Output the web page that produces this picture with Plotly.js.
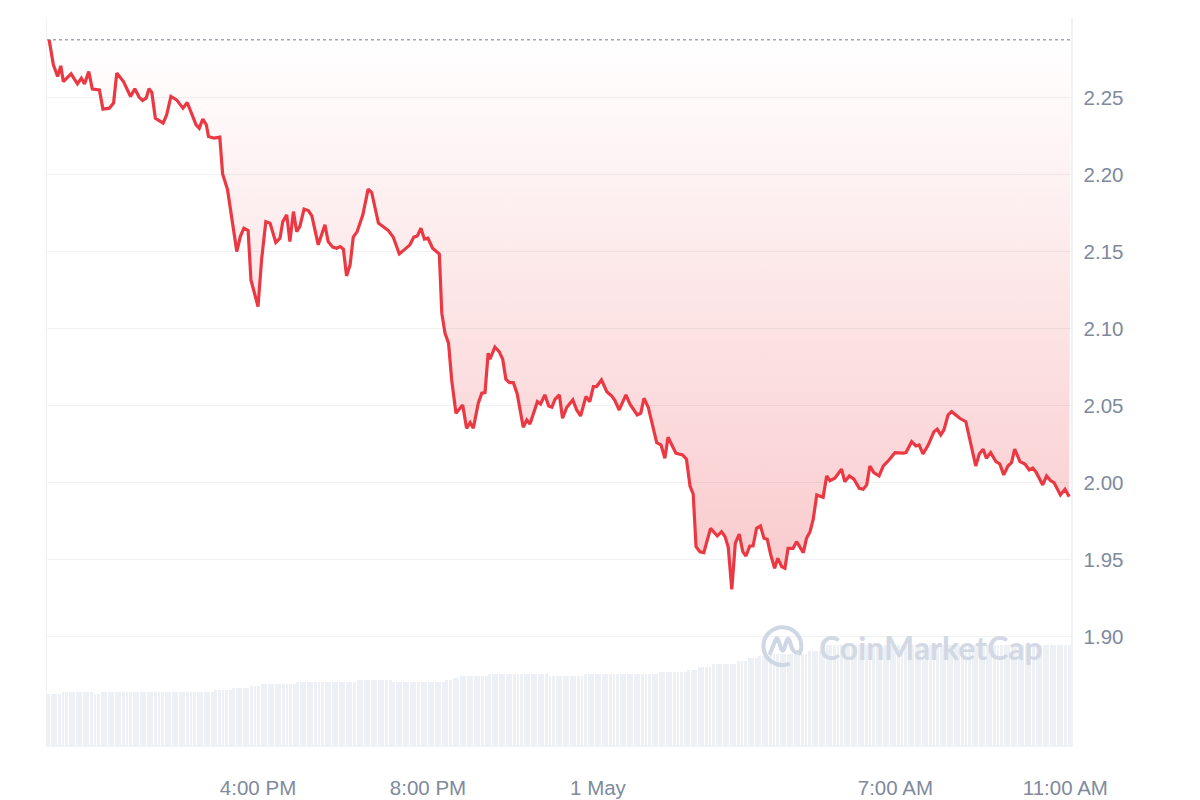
<!DOCTYPE html>
<html>
<head>
<meta charset="utf-8">
<script src="https://cdn.plot.ly/plotly-3.0.1.min.js"></script>
<style>
html,body{margin:0;padding:0;background:#ffffff;}
#chart{width:1200px;height:800px;}
</style>
</head>
<body>
<div id="chart"></div>
<script>
// ---- DATA ----
// Opening price of the 24h window (dotted reference line)
const openPrice = 2.2877;

// Price samples: minutes relative to 1 May 00:00, and price in USD
const priceMinutes = [
-775,-769,-763,-758.5,-755,-744,-735,-729.5,-725,-719,-714,-704,-699,-690,-684,-679.5,-670,-660,-654,-648,
-643,-638,-634,-630,-625,-614,-609,-603,-595,-586,-580,-574,-567.5,-563,-558,-553,-550,-542,-534,-530,
-523,-510,-505,-500,-494,-490,-480,-475,-469,-463,-455,-449,-445,-439.5,-435,-430,-425.5,-421,-415,-409,
-404,-395,-390,-385.5,-381,-374.5,-369,-364,-359.5,-355,-350,-345.5,-340,-332,-324.5,-319.5,-310,-303,-296,-289,
-280.5,-272.5,-265.5,-260,-255,-250,-245,-240,-233.5,-224,-220.5,-216,-211,-206.5,-200.5,-191,-185.5,-180.5,-176,-169,
-164,-159.5,-155,-152.5,-145.5,-139.5,-134.5,-130,-125,-119.5,-114,-105.5,-100.5,-96,-85.5,-81,-75,-69.5,-65,-60.5,
-54.5,-50,-44,-35.5,-30,-24.5,-17,-11.5,-6.5,-2,5,12.5,19.5,24,30,39.5,45,55.5,60.5,65,
71,83,89,94.5,99,110,119.5,125,130,134.5,138.5,144,149.5,159,168.5,174.5,179.5,184,189,194,
199.5,204.5,209,214.5,219,224,229.5,234.5,239,244,249.5,254,259.5,264,268.5,275.5,280.5,290,294.5,299.5,
304,309,318,323,327.5,334.5,344,348.5,355,361.5,369,374.5,379.5,384,389.5,397,403,411,419.5,431,
435,443,449,453.5,459,466.5,474.5,479,484,488.5,494.5,499.5,511,519.5,526,533.5,538.5,544,548.5,554.5,
562,567.5,573,579,584,588.5,596,603,609,614,618.5,628,633.5,639,644,653,659.5,665.5
];
const priceValues = [
2.2876,2.2714,2.2638,2.2707,2.2605,2.2655,2.2590,2.2627,2.2590,2.2670,2.2556,2.2551,2.2426,2.2432,2.2465,2.2660,2.2605,2.2508,2.2558,2.2504,
2.2482,2.2497,2.2558,2.2534,2.2367,2.2335,2.2389,2.2508,2.2486,2.2432,2.2469,2.2395,2.2324,2.2302,2.2361,2.2324,2.2248,2.2237,2.2244,2.2005,
2.1901,2.1500,2.1598,2.1652,2.1637,2.1316,2.1143,2.1446,2.1695,2.1685,2.1559,2.1587,2.1695,2.1739,2.1565,2.1760,2.1630,2.1663,2.1776,2.1767,
2.1732,2.1544,2.1620,2.1674,2.1565,2.1529,2.1522,2.1533,2.1516,2.1342,2.1414,2.1594,2.1630,2.1739,2.1906,2.1884,2.1685,2.1659,2.1637,2.1594,
2.1485,2.1516,2.1544,2.1594,2.1602,2.1652,2.1581,2.1587,2.1522,2.1485,2.1100,2.0970,2.0905,2.0666,2.0450,2.0504,2.0352,2.0389,2.0352,2.0515,
2.0580,2.0584,2.0840,2.0801,2.0879,2.0850,2.0801,2.0671,2.0649,2.0649,2.0575,2.0359,2.0406,2.0380,2.0525,2.0510,2.0569,2.0497,2.0489,2.0541,
2.0569,2.0417,2.0489,2.0536,2.0471,2.0432,2.0558,2.0525,2.0623,2.0623,2.0666,2.0590,2.0562,2.0532,2.0471,2.0569,2.0510,2.0439,2.0450,2.0547,
2.0489,2.0259,2.0244,2.0157,2.0294,2.0190,2.0179,2.0151,1.9977,1.9925,1.9583,1.9550,1.9544,1.9702,1.9652,1.9680,1.9648,1.9579,1.9306,1.9605,
1.9665,1.9550,1.9522,1.9587,1.9587,1.9702,1.9717,1.9637,1.9631,1.9529,1.9442,1.9507,1.9453,1.9442,1.9572,1.9572,1.9615,1.9544,1.9637,1.9680,
1.9761,1.9919,1.9904,2.0042,2.0012,2.0027,2.0086,2.0005,2.0042,2.0021,1.9962,1.9956,1.9984,2.0107,2.0064,2.0042,2.0107,2.0146,2.0194,2.0190,
2.0194,2.0265,2.0237,2.0244,2.0185,2.0244,2.0330,2.0346,2.0309,2.0341,2.0439,2.0460,2.0417,2.0395,2.0255,2.0107,2.0185,2.0216,2.0157,2.0194,
2.0135,2.0120,2.0049,2.0107,2.0129,2.0216,2.0135,2.0120,2.0081,2.0094,2.0068,1.9984,2.0042,2.0012,1.9999,1.9919,1.9956,1.9908
];

// Volume bars: one per ~5 minutes starting at 11:02 on 30 April (relative units)
const volumeStartMinute = -778;
const volumeStepMinutes = 5.02;
const volumeValues = [
50.7,50.7,50.7,50.7,
52.7,52.7,52.7,52.7,52.7,52.7,52.7,52.7,52.7,
50.7,50.7,
52.7,52.7,52.7,52.7,52.7,52.7,52.7,52.7,
52.7,52.7,52.7,52.7,52.7,52.7,52.7,52.7,
52.7,52.7,52.7,52.7,52.7,52.7,52.7,52.7,
52.7,52.7,52.7,52.7,52.7,52.7,52.7,52.7,
54.7,54.7,54.7,54.7,54.7,
56.7,56.7,56.7,56.7,56.7,
58.7,58.7,58.7,
60.7,60.7,60.7,60.7,60.7,60.7,60.7,60.7,60.7,60.7,
62.7,62.7,62.7,62.7,62.7,62.7,62.7,62.7,62.7,62.7,
62.7,62.7,62.7,62.7,62.7,62.7,62.7,
64.7,64.7,64.7,64.7,64.7,64.7,64.7,64.7,64.7,64.7,
62.7,62.7,62.7,62.7,62.7,62.7,62.7,62.7,62.7,62.7,
62.7,62.7,62.7,62.7,62.7,
64.7,64.7,
66.7,66.7,
68.7,68.7,68.7,68.7,68.7,68.7,68.7,68.7,
70.7,70.7,70.7,70.7,70.7,70.7,70.7,70.7,70.7,70.7,
70.7,70.7,70.7,70.7,70.7,70.7,70.7,
68.7,68.7,68.7,68.7,68.7,68.7,68.7,68.7,68.7,68.7,
70.7,70.7,70.7,70.7,70.7,70.7,70.7,70.7,70.7,70.7,
70.7,70.7,70.7,70.7,70.7,70.7,70.7,70.7,70.7,70.7,
70.7,
72.7,72.7,72.7,72.7,72.7,72.7,72.7,72.7,
74.7,74.7,74.7,
78.3,78.3,78.3,78.3,
80.7,80.7,80.7,80.7,80.7,80.7,80.7,
84.3,84.3,84.3,
86.7,86.7,86.7,
89,89,89,
91,91,91,91,91,91,91,91,91,91,91,
94.3,94.3,94.3,94.3,
100,100,100,100,100,100,100,100,100,100,
100,100,100,100,100,100,100,100,100,100,
100,100,100,100,100,100,100,100,100,100,
100,100,100,100,100,100,100,100,100,100,
100,100,100,100,100,100,100,100,100,100,
100,100,100,100,100,100,100,100,100,100,
100,100,100,100,100,100,100,100,100,100
];

// Axis ticks
const xTickMinutes = [-480, -240, 0, 420, 660];
const xTickLabels = ['4:00 PM', '8:00 PM', '1 May', '7:00 AM', '11:00 AM'];
const yTickValues = [1.90, 1.95, 2.00, 2.05, 2.10, 2.15, 2.20, 2.25];
const xRangeMinutes = [-778, 668];
const yRange = [1.8294, 2.3018];
const volumeRange = [0, 727];

// ---- BUILD ----
const BASE = Date.UTC(2025, 4, 1, 0, 0, 0);
function toDate(m) {
  return new Date(BASE + m * 60000).toISOString().slice(0, 23).replace('T', ' ');
}

const priceX = priceMinutes.map(toDate);
const volX = volumeValues.map((v, i) => toDate(volumeStartMinute + (i + 0.5) * volumeStepMinutes));

const RED = '#EA3943';
const GRID = '#EFF1F3';
const LABEL = '#808A9D';
const FONT = '"Liberation Sans", Arial, sans-serif';

const traces = [
  {
    type: 'bar',
    x: volX,
    y: volumeValues,
    yaxis: 'y2',
    marker: { color: '#EDF0F4', line: { width: 0 } },
    width: volumeStepMinutes * 60000 * 0.82,
    hoverinfo: 'skip',
    showlegend: false
  },
  {
    type: 'scatter',
    mode: 'lines',
    x: [toDate(xRangeMinutes[0]), toDate(xRangeMinutes[1])],
    y: [openPrice, openPrice],
    line: { color: '#A1A7B3', width: 1.6, dash: 'dot' },
    hoverinfo: 'skip',
    showlegend: false
  },
  {
    type: 'scatter',
    mode: 'lines',
    x: priceX,
    y: priceValues,
    line: { color: RED, width: 3.2 },
    fill: 'tonexty',
    fillgradient: {
      type: 'vertical',
      start: Math.min(...priceValues),
      stop: openPrice,
      colorscale: [[0, 'rgba(234,57,67,0.27)'], [1, 'rgba(234,57,67,0.0)']]
    },
    hoverinfo: 'skip',
    showlegend: false
  }
];

const logoSvg = "<svg xmlns='http://www.w3.org/2000/svg' viewBox='0 0 100 100'>" +
  "<g fill='none' stroke='#CFD6E4' stroke-width='9' stroke-linecap='round' stroke-linejoin='round'>" +
  "<path d='M88 66 A42 42 0 1 0 62 90'/>" +
  "<path d='M22 66 L34 36 Q37 29 40 36 L47 57 Q50 63 53 57 L59 37 Q62 30 65 37 L71 56 Q76 68 88 62'/>" +
  "</g></svg>";

const layout = {
  width: 1200,
  height: 800,
  margin: { l: 47, r: 129, t: 18, b: 55, pad: 0 },
  paper_bgcolor: '#ffffff',
  plot_bgcolor: '#ffffff',
  showlegend: false,
  bargap: 0,
  font: { family: FONT, color: LABEL, size: 20 },
  xaxis: {
    type: 'date',
    range: [toDate(xRangeMinutes[0]), toDate(xRangeMinutes[1])],
    tickmode: 'array',
    tickvals: xTickMinutes.map(toDate),
    ticktext: xTickLabels,
    showgrid: false,
    zeroline: false,
    showline: true,
    linecolor: GRID,
    linewidth: 1.5,
    ticks: '',
    ticklabelstandoff: 24,
    tickfont: { family: FONT, size: 20.5, color: LABEL }
  },
  yaxis: {
    side: 'right',
    range: yRange,
    tickmode: 'array',
    tickvals: yTickValues,
    tickformat: '.2f',
    showgrid: true,
    gridcolor: GRID,
    gridwidth: 1.5,
    zeroline: false,
    showline: true,
    mirror: true,
    linecolor: GRID,
    linewidth: 1.5,
    ticks: '',
    ticklabelstandoff: 7,
    tickfont: { family: FONT, size: 20.5, color: LABEL }
  },
  yaxis2: {
    overlaying: 'y',
    side: 'left',
    range: volumeRange,
    visible: false,
    showgrid: false,
    zeroline: false
  },
  images: [{
    source: 'data:image/svg+xml;charset=utf-8,' + encodeURIComponent(logoSvg),
    xref: 'paper', yref: 'paper',
    x: 0.6965, y: 0.167,
    sizex: 0.044, sizey: 0.062,
    xanchor: 'left', yanchor: 'top',
    sizing: 'contain',
    layer: 'above'
  }],
  annotations: [{
    text: 'CoinMarketCap',
    xref: 'paper', yref: 'paper',
    x: 0.8635, y: 0.134,
    xanchor: 'center', yanchor: 'middle',
    showarrow: false,
    font: { family: 'Lato, "Open Sans", sans-serif', size: 32, weight: 700, color: '#D3D9E4' }
  }]
};

Plotly.newPlot('chart', traces, layout, { staticPlot: true, displayModeBar: false });
</script>
</body>
</html>
